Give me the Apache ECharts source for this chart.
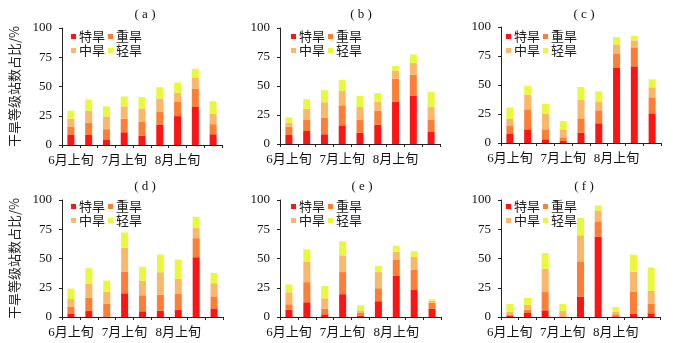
<!DOCTYPE html>
<html>
<head>
<meta charset="utf-8">
<script src="https://cdn.jsdelivr.net/npm/echarts@6/dist/echarts.min.js"></script>
<style>
html,body{margin:0;padding:0;background:#fff;}
#chart{width:700px;height:343px;}
</style>
</head>
<body>
<div id="chart"></div>
<script>
// Categories (dekads, June–August)
const categories = ["6月上旬","6月中旬","6月下旬","7月上旬","7月中旬","7月下旬","8月上旬","8月中旬","8月下旬"];
const seriesNames = ["特旱","重旱","中旱","轻旱"];
const panelTitles = ["( a )","( b )","( c )","( d )","( e )","( f )"];
const yTicks = [0, 25, 50, 75, 100];

// Panel (a)
const aExtreme = [8.6, 8.6, 4.3, 10.9, 8.0, 17.5, 24.7, 32.5, 9.2];
const aSevere  = [7.2, 10.4, 9.2, 11.5, 11.8, 11.2, 12.1, 15.5, 8.6];
const aModerate= [6.6, 10.3, 10.9, 10.6, 11.5, 11.0, 8.0, 9.8, 9.2];
const aLight   = [6.9, 9.5, 8.6, 8.4, 9.7, 9.7, 8.6, 7.2, 10.4];
// Panel (b)
const bExtreme = [7.8, 11.2, 8.4, 16.1, 9.8, 16.7, 36.3, 41.8, 10.4];
const bSevere  = [7.2, 9.5, 14.4, 17.3, 11.2, 11.8, 19.9, 17.9, 10.3];
const bModerate= [3.4, 9.8, 13.2, 12.4, 11.0, 7.8, 7.2, 10.3, 11.3];
const bLight   = [4.6, 8.1, 10.4, 9.5, 9.5, 7.5, 4.0, 7.2, 13.0];
// Panel (c)
const cExtreme = [7.8, 11.8, 3.2, 1.7, 8.9, 17.0, 64.7, 66.1, 25.6];
const cSevere  = [7.4, 17.2, 8.6, 3.2, 12.4, 11.2, 12.0, 16.4, 13.8];
const cModerate= [5.5, 12.7, 13.2, 6.9, 16.3, 7.7, 8.3, 6.0, 8.6];
const cLight   = [10.0, 7.4, 8.9, 7.2, 10.7, 8.6, 6.4, 4.0, 6.9];
// Panel (d)
const dExtreme = [2.6, 5.1, 0.5, 20.3, 4.9, 5.4, 6.3, 51.1, 7.4];
const dSevere  = [6.3, 11.5, 10.9, 18.6, 13.7, 13.7, 13.7, 16.3, 10.3];
const dModerate= [6.5, 12.0, 10.3, 20.2, 12.3, 19.2, 12.6, 8.6, 11.2];
const dLight   = [8.9, 13.1, 9.4, 13.2, 12.0, 15.1, 16.5, 9.7, 8.8];
// Panel (e)
const eExtreme = [6.3, 12.6, 2.3, 19.5, 1.1, 13.5, 35.2, 23.2, 6.9];
const eSevere  = [4.6, 17.2, 4.6, 18.9, 2.3, 11.1, 13.5, 17.2, 5.4];
const eModerate= [10.3, 17.2, 9.1, 14.3, 2.3, 13.8, 7.2, 10.9, 1.5];
const eLight   = [6.6, 10.9, 10.6, 12.1, 4.3, 5.2, 5.1, 4.9, 1.4];
// Panel (f)
const fExtreme = [0.9, 3.4, 5.7, 0.0, 17.5, 68.8, 0.6, 2.6, 3.2];
const fSevere  = [1.4, 2.9, 15.8, 0.6, 30.1, 12.9, 1.7, 18.9, 8.0];
const fModerate= [2.3, 4.0, 19.8, 4.6, 22.3, 9.4, 2.3, 17.2, 11.1];
const fLight   = [6.6, 6.0, 13.4, 6.0, 14.6, 4.3, 4.0, 14.6, 20.1];

const panelData = [
  [aExtreme, aSevere, aModerate, aLight],
  [bExtreme, bSevere, bModerate, bLight],
  [cExtreme, cSevere, cModerate, cLight],
  [dExtreme, dSevere, dModerate, dLight],
  [eExtreme, eSevere, eModerate, eLight],
  [fExtreme, fSevere, fModerate, fLight]
];

const colors = ["#ff1414", "#ff7e36", "#fbb86a", "#e9f93a"];
const FONT = "'Liberation Serif', 'Noto Sans CJK SC', serif";

const grids = [
  {left: 62,  top: 28,  width: 160, height: 117},
  {left: 280, top: 28,  width: 160, height: 116},
  {left: 501, top: 27,  width: 160, height: 116},
  {left: 62,  top: 200, width: 161, height: 117},
  {left: 280, top: 200, width: 161, height: 117},
  {left: 501, top: 200, width: 159, height: 117}
];
const titlePos = [[140, 3], [356, 3], [579, 3], [140, 175], [357, 175], [579, 175]];
const legendPos = [[71, 30], [291, 30], [506, 30], [71, 200], [291, 200], [506, 200]];

const option = {
  animation: false,
  backgroundColor: '#fff',
  color: colors,
  title: [], grid: [], xAxis: [], yAxis: [], legend: [], series: []
};

for (let p = 0; p < 6; p++) {
  option.title.push({
    text: panelTitles[p], left: titlePos[p][0], top: titlePos[p][1], textAlign: 'center',
    textStyle: {fontFamily: FONT, fontSize: 13, fontWeight: 'normal', color: '#111'}
  });
  option.grid.push(Object.assign({containLabel: false}, grids[p]));
  option.xAxis.push({
    type: 'category', gridIndex: p, data: categories,
    axisLine: {lineStyle: {color: '#222', width: 1}},
    axisTick: {show: true, interval: 0, length: 3, lineStyle: {color: '#222'}},
    axisLabel: {interval: 2, margin: 9, fontFamily: FONT, fontSize: 13, color: '#111'},
    splitLine: {show: false}
  });
  option.yAxis.push({
    type: 'value', gridIndex: p, min: 0, max: 100, interval: 25,
    name: (p % 3 === 0) ? '干旱等级站数占比/%' : '',
    nameLocation: 'middle', nameGap: 41, nameRotate: 90,
    nameTextStyle: {fontFamily: "'Noto Sans CJK SC', sans-serif", fontSize: 13, color: '#222'},
    axisLine: {show: true, lineStyle: {color: '#222', width: 1}},
    axisTick: {show: true, length: 3, lineStyle: {color: '#222'}},
    axisLabel: {margin: 10, fontFamily: FONT, fontSize: 13, color: '#111',
      formatter: v => yTicks.indexOf(v) >= 0 ? String(v) : ''},
    splitLine: {show: false}
  });
  const lx = legendPos[p][0], ly = legendPos[p][1];
  const legendCommon = {
    orient: 'horizontal', left: lx, padding: 0, itemGap: 3, itemWidth: 5, itemHeight: 5,
    icon: 'rect', selectedMode: false,
    textStyle: {fontFamily: "'Noto Sans CJK SC', sans-serif", fontSize: 13, color: '#222', padding: [0, 0, 0, -2]}
  };
  option.legend.push(Object.assign({}, legendCommon, {top: ly, data: [seriesNames[0], seriesNames[1]]}));
  option.legend.push(Object.assign({}, legendCommon, {top: ly + 14, data: [seriesNames[2], seriesNames[3]]}));
  for (let s = 0; s < 4; s++) {
    option.series.push({
      name: seriesNames[s], type: 'bar', stack: 'panel' + p,
      xAxisIndex: p, yAxisIndex: p, barWidth: 7,
      itemStyle: {color: colors[s]},
      data: panelData[p][s]
    });
  }
}

const chart = echarts.init(document.getElementById('chart'), null, {renderer: 'canvas'});
chart.setOption(option);
</script>
</body>
</html>
